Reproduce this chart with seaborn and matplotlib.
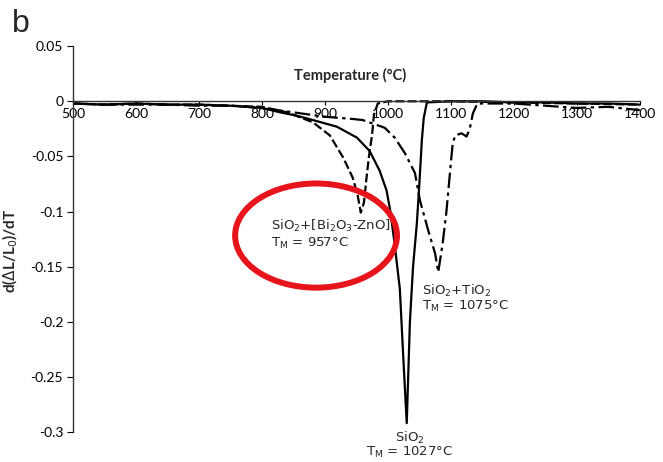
import matplotlib
matplotlib.use('Agg')
import matplotlib.pyplot as plt
from matplotlib.patches import Ellipse
import seaborn as sns
import pandas as pd

# SiO2 (solid)
t_sio2 = [500, 550, 600, 650, 700, 750, 800, 829, 855, 881, 919, 951, 971, 987, 998,
          1004, 1010, 1019, 1025, 1030, 1035, 1040, 1046, 1050, 1054, 1057, 1062,
          1100, 1150, 1200, 1250, 1300, 1350, 1400]
v_sio2 = [-0.002, -0.003, -0.002, -0.003, -0.003, -0.004, -0.006, -0.010, -0.013,
          -0.017, -0.023, -0.033, -0.045, -0.063, -0.081, -0.100, -0.126, -0.170,
          -0.238, -0.292, -0.200, -0.150, -0.111, -0.075, -0.035, -0.015, -0.001,
          0.000, 0.000, -0.001, -0.001, -0.002, -0.002, -0.003]

# SiO2 + [Bi2O3-ZnO] (dashed)
t_bizn = [500, 550, 600, 650, 700, 750, 800, 840, 881, 908, 929, 944, 952, 957,
          962, 966, 970, 975, 978, 984, 1000, 1100, 1200, 1300, 1400]
v_bizn = [-0.002, -0.003, -0.002, -0.003, -0.003, -0.004, -0.005, -0.010, -0.019,
          -0.031, -0.051, -0.069, -0.085, -0.101, -0.092, -0.070, -0.050, -0.030,
          -0.012, -0.002, 0.000, 0.000, -0.001, -0.002, -0.003]

# SiO2 + TiO2 (dash-dot)
t_tio2 = [500, 550, 600, 650, 700, 750, 800, 850, 900, 944, 960, 995, 1011, 1027,
          1043, 1051, 1064, 1075, 1080, 1087, 1093, 1097, 1100, 1103, 1107, 1117,
          1125, 1130, 1135, 1142, 1200, 1250, 1300, 1350, 1400]
v_tio2 = [-0.002, -0.003, -0.003, -0.003, -0.004, -0.004, -0.006, -0.010, -0.014,
          -0.016, -0.017, -0.024, -0.033, -0.047, -0.065, -0.090, -0.117, -0.138,
          -0.155, -0.129, -0.100, -0.075, -0.056, -0.038, -0.031, -0.029, -0.032,
          -0.025, -0.011, -0.002, -0.002, -0.004, -0.006, -0.005, -0.008]

x_ticks = [500, 600, 700, 800, 900, 1000, 1100, 1200, 1300, 1400]
y_ticks = [0.05, 0, -0.05, -0.1, -0.15, -0.2, -0.25, -0.3]
y_tick_labels = ['0.05', '0', '-0.05', '-0.1', '-0.15', '-0.2', '-0.25', '-0.3']

sns.set_style('white')
plt.rcParams['font.family'] = ['DejaVu Sans']
plt.rcParams['mathtext.fontset'] = 'dejavusans'

fig = plt.figure(figsize=(6.63, 4.62), dpi=100)
ax = fig.add_axes([0.110, 0.065, 0.855, 0.835])

df1 = pd.DataFrame({'T': t_sio2, 'v': v_sio2})
df2 = pd.DataFrame({'T': t_bizn, 'v': v_bizn})
df3 = pd.DataFrame({'T': t_tio2, 'v': v_tio2})

sns.lineplot(data=df1, x='T', y='v', ax=ax, color='black', lw=1.6, sort=False)
sns.lineplot(data=df2, x='T', y='v', ax=ax, color='black', lw=1.6, sort=False,
             linestyle=(0, (4, 1.5)))
sns.lineplot(data=df3, x='T', y='v', ax=ax, color='black', lw=1.6, sort=False,
             linestyle=(0, (7, 2, 1.5, 2)))

ax.set_xlim(500, 1400)
ax.set_ylim(-0.3, 0.05)
ax.spines['top'].set_visible(False)
ax.spines['right'].set_visible(False)
ax.spines['bottom'].set_position(('data', 0))
for s in ['bottom', 'left']:
    ax.spines[s].set_color('#333333')
    ax.spines[s].set_linewidth(1.0)

ax.set_xticks(x_ticks)
ax.set_xticklabels([str(t) for t in x_ticks], fontfamily='Lato', fontsize=10)
ax.set_yticks(y_ticks)
ax.set_yticklabels(y_tick_labels, fontfamily='Lato', fontsize=10)
ax.tick_params(axis='x', direction='out', length=3, pad=2, colors='black')
ax.tick_params(axis='y', direction='out', length=4, pad=3, colors='black')
ax.xaxis.set_ticks_position('bottom')
ax.yaxis.set_ticks_position('left')

ax.set_xlabel('')
ax.text(940, 0.0236, 'Temperature (°C)', ha='center', va='center',
        fontfamily='Lato', fontweight='bold', fontsize=10.5)
ax.set_ylabel(r'd($\Delta$L/L$_0$)/dT', fontfamily='Lato', fontweight='bold', fontsize=11)
ax.yaxis.set_label_coords(-0.093, 0.469)

ax.text(814, -0.113, 'SiO$_2$+[Bi$_2$O$_3$-ZnO]', fontsize=9.5, va='center', ha='left')
ax.text(814, -0.129, r'T$_\mathrm{M}$ = 957°C', fontsize=9.5, va='center', ha='left')
ax.text(1054, -0.172, 'SiO$_2$+TiO$_2$', fontsize=9.5, va='center', ha='left')
ax.text(1054, -0.186, r'T$_\mathrm{M}$ = 1075°C', fontsize=9.5, va='center', ha='left')
ax.text(1035, -0.305, 'SiO$_2$', fontsize=9.5, va='center', ha='center', clip_on=False)
ax.text(1035, -0.319, r'T$_\mathrm{M}$ = 1027°C', fontsize=9.5, va='center', ha='center',
        clip_on=False)

ax.add_patch(Ellipse((886, -0.1218), 257, 0.0945, fill=False, edgecolor='#e8141b',
                     lw=4.3, clip_on=False, zorder=5))

fig.text(12 / 663, 1 - 32 / 462, 'b', fontsize=23, fontfamily='Liberation Sans',
         ha='left', va='baseline')

plt.savefig('out.png', dpi=100)
